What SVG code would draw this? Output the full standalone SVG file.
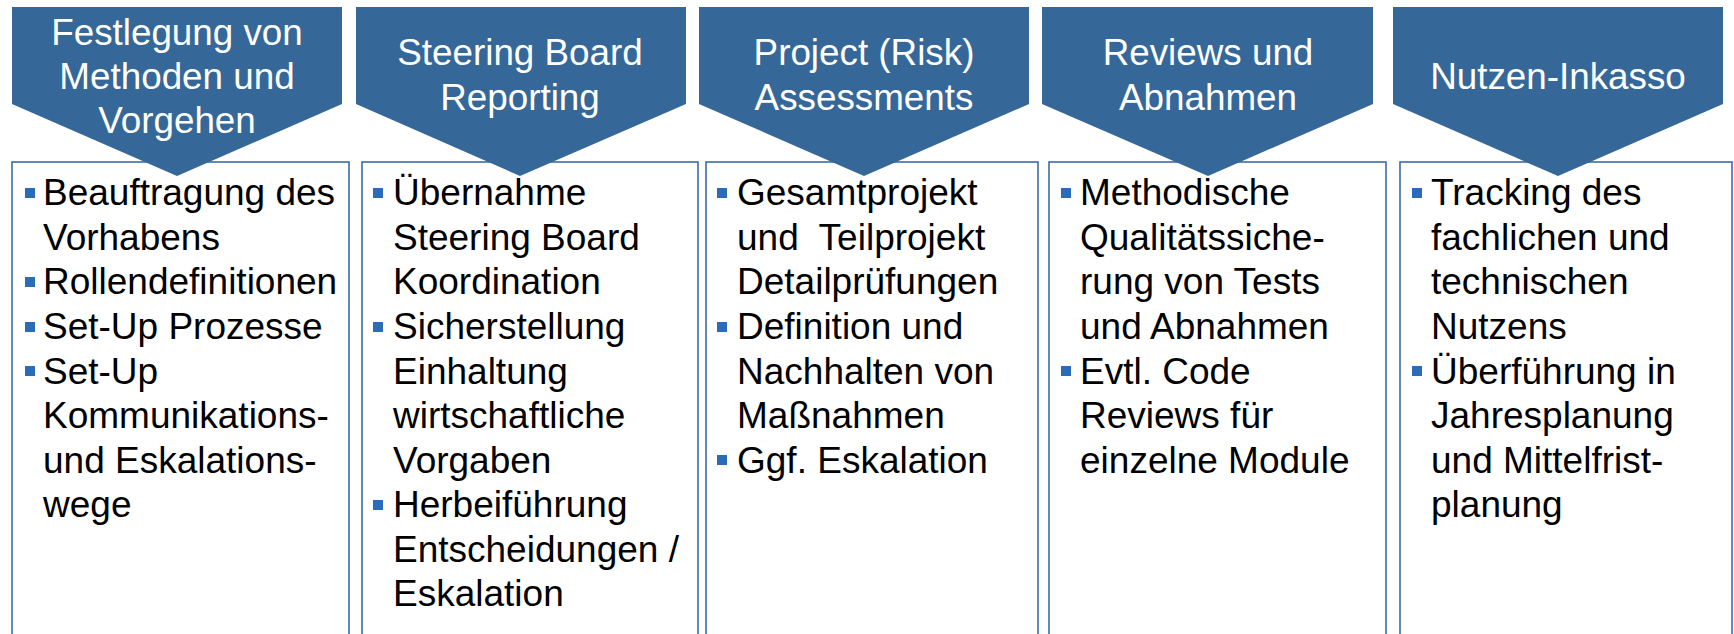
<svg xmlns="http://www.w3.org/2000/svg" width="1734" height="634" viewBox="0 0 1734 634">
<style>
.box{fill:#ffffff;stroke:#3b6ca6;stroke-width:1.6}
.pent{fill:#356899;stroke:none}
.hd{font-family:"Liberation Sans",Arial,sans-serif;font-size:36.8px;fill:#ffffff;text-anchor:middle}
.bd{font-family:"Liberation Sans",Arial,sans-serif;font-size:37px;fill:#000000;white-space:pre}
.bl{fill:#2a6cb8}
</style>
<rect width="1734" height="634" fill="#ffffff"/>
<g id="connectors"></g>
<g id="col1">
<rect class="box" x="12" y="162" width="337" height="480"/>
<polygon class="pent" points="12,7 342,7 342,104 177,176 12,104"/>
<text class="hd"><tspan x="177" y="45">Festlegung von</tspan><tspan x="177" y="89">Methoden und</tspan><tspan x="177" y="133">Vorgehen</tspan></text>
<rect class="bl" x="25" y="188" width="10" height="10"/>
<rect class="bl" x="25" y="277" width="10" height="10"/>
<rect class="bl" x="25" y="322" width="10" height="10"/>
<rect class="bl" x="25" y="366" width="10" height="10"/>
<text class="bd"><tspan x="43" y="205">Beauftragung des</tspan><tspan x="43" y="250">Vorhabens</tspan><tspan x="43" y="294">Rollendefinitionen</tspan><tspan x="43" y="339">Set-Up Prozesse</tspan><tspan x="43" y="384">Set-Up</tspan><tspan x="43" y="428">Kommunikations-</tspan><tspan x="43" y="473">und Eskalations-</tspan><tspan x="43" y="517">wege</tspan></text>
</g>
<g id="col2">
<rect class="box" x="362" y="162" width="336" height="480"/>
<polygon class="pent" points="356,7 686,7 686,104 520,176 356,104"/>
<text class="hd"><tspan x="520" y="65">Steering Board</tspan><tspan x="520" y="110">Reporting</tspan></text>
<rect class="bl" x="373" y="188" width="10" height="10"/>
<rect class="bl" x="373" y="322" width="10" height="10"/>
<rect class="bl" x="373" y="500" width="10" height="10"/>
<text class="bd"><tspan x="393" y="205">Übernahme</tspan><tspan x="393" y="250">Steering Board</tspan><tspan x="393" y="294">Koordination</tspan><tspan x="393" y="339">Sicherstellung</tspan><tspan x="393" y="384">Einhaltung</tspan><tspan x="393" y="428">wirtschaftliche</tspan><tspan x="393" y="473">Vorgaben</tspan><tspan x="393" y="517">Herbeiführung</tspan><tspan x="393" y="562">Entscheidungen /</tspan><tspan x="393" y="606">Eskalation</tspan></text>
</g>
<g id="col3">
<rect class="box" x="706" y="162" width="332" height="480"/>
<polygon class="pent" points="699,7 1029,7 1029,104 864,176 699,104"/>
<text class="hd"><tspan x="864" y="65">Project (Risk)</tspan><tspan x="864" y="110">Assessments</tspan></text>
<rect class="bl" x="717" y="188" width="10" height="10"/>
<rect class="bl" x="717" y="322" width="10" height="10"/>
<rect class="bl" x="717" y="455" width="10" height="10"/>
<text class="bd"><tspan x="737" y="205">Gesamtprojekt</tspan><tspan x="737" y="250">und  Teilprojekt</tspan><tspan x="737" y="294">Detailprüfungen</tspan><tspan x="737" y="339">Definition und</tspan><tspan x="737" y="384">Nachhalten von</tspan><tspan x="737" y="428">Maßnahmen</tspan><tspan x="737" y="473">Ggf. Eskalation</tspan></text>
</g>
<g id="col4">
<rect class="box" x="1049" y="162" width="337" height="480"/>
<polygon class="pent" points="1042,7 1373,7 1373,104 1208,176 1042,104"/>
<text class="hd"><tspan x="1208" y="65">Reviews und</tspan><tspan x="1208" y="110">Abnahmen</tspan></text>
<rect class="bl" x="1061" y="188" width="10" height="10"/>
<rect class="bl" x="1061" y="366" width="10" height="10"/>
<text class="bd"><tspan x="1080" y="205">Methodische</tspan><tspan x="1080" y="250">Qualitätssiche-</tspan><tspan x="1080" y="294">rung von Tests</tspan><tspan x="1080" y="339">und Abnahmen</tspan><tspan x="1080" y="384">Evtl. Code</tspan><tspan x="1080" y="428">Reviews für</tspan><tspan x="1080" y="473">einzelne Module</tspan></text>
</g>
<g id="col5">
<rect class="box" x="1400" y="162" width="332" height="480"/>
<polygon class="pent" points="1393,7 1723,7 1723,104 1558,176 1393,104"/>
<text class="hd"><tspan x="1558" y="89">Nutzen-Inkasso</tspan></text>
<rect class="bl" x="1412" y="188" width="10" height="10"/>
<rect class="bl" x="1412" y="366" width="10" height="10"/>
<text class="bd"><tspan x="1431" y="205">Tracking des</tspan><tspan x="1431" y="250">fachlichen und</tspan><tspan x="1431" y="294">technischen</tspan><tspan x="1431" y="339">Nutzens</tspan><tspan x="1431" y="384">Überführung in</tspan><tspan x="1431" y="428">Jahresplanung</tspan><tspan x="1431" y="473">und Mittelfrist-</tspan><tspan x="1431" y="517">planung</tspan></text>
</g>
</svg>
